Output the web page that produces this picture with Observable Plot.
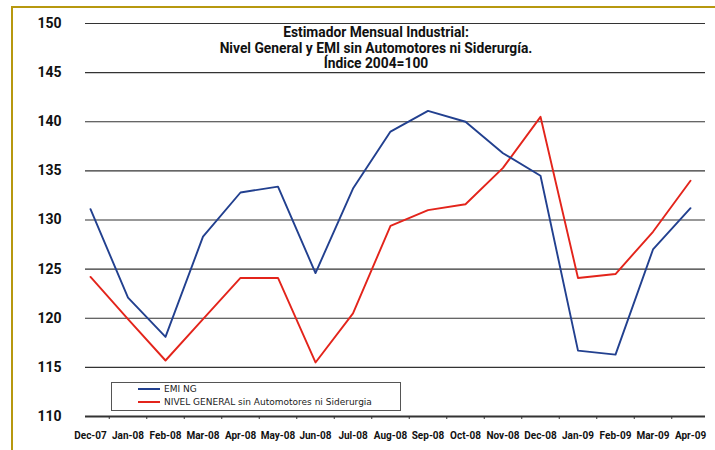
<!DOCTYPE html>
<html><head><meta charset="utf-8">
<script src="https://cdn.jsdelivr.net/npm/d3@7"></script>
<script src="https://cdn.jsdelivr.net/npm/@observablehq/plot@0.6"></script>
<style>
body{margin:0;background:#fff;}
#wrap{position:relative;width:715px;height:450px;overflow:hidden;font-family:Roboto,sans-serif;}
#frame{position:absolute;left:11px;top:6px;width:720px;height:460px;border-left:2.5px solid #b7980f;border-top:2.5px solid #b7980f;}
#title{position:absolute;left:0;width:752px;top:25px;text-align:center;font:bold 13.8px Roboto,sans-serif;line-height:15.5px;color:#111;}
#legend{position:absolute;left:111px;top:382px;width:288px;height:27px;border:1px solid #555;background:#fff;font:9px "DejaVu Sans",Verdana,sans-serif;color:#222;}
.li{position:absolute;left:26px;display:flex;align-items:center;}
.sw{width:22px;height:2px;margin-right:4px;}
</style></head>
<body><div id="wrap"><div id="frame"></div><div id="chart"></div>
<div id="title">Estimador Mensual Industrial:<br>Nivel General y EMI sin Automotores ni Siderurgía.<br>Índice 2004=100</div>
<div id="legend"><div class="li" style="top:1px"><div class="sw" style="background:#22408f"></div>EMI NG</div><div class="li" style="top:14px"><div class="sw" style="background:#e3241b"></div>NIVEL GENERAL sin Automotores ni Siderurgia</div></div>
</div>
<script>
const months = ["Dec-07","Jan-08","Feb-08","Mar-08","Apr-08","May-08","Jun-08","Jul-08","Aug-08","Sep-08","Oct-08","Nov-08","Dec-08","Jan-09","Feb-09","Mar-09","Apr-09"];
const emiNG = [131.1,122.1,118.1,128.3,132.8,133.4,124.6,133.2,139.0,141.1,140.0,136.8,134.5,116.7,116.3,127.0,131.2];
const nivelGeneral = [124.2,119.9,115.7,119.9,124.1,124.1,115.5,120.5,129.4,131.0,131.6,135.3,140.5,124.1,124.5,128.8,134.0];
const yTicks = [110,115,120,125,130,135,140,145,150];

const blue = months.map((m,i)=>({i, v: emiNG[i]}));
const red = months.map((m,i)=>({i, v: nivelGeneral[i]}));
const idx = months.map((m,i)=>i);
const mids = idx.slice(0,-1).map(i=>i+0.5);

const chart = Plot.plot({
  width: 715, height: 450,
  marginLeft: 85, marginRight: 10, marginTop: 23, marginBottom: 34,
  style: {fontFamily: "Roboto, sans-serif", background: "transparent"},
  x: {type: "linear", domain: [0, 16], range: [90, 690]},
  y: {domain: [110, 150], range: [416, 23]},
  marks: [
    Plot.ruleY(yTicks.filter(t=>t>110), {stroke: "#333", strokeWidth: 1.2}),
    Plot.ruleY([110], {stroke: "#333", strokeWidth: 2.2}),
    Plot.axisY({ticks: yTicks, tickSize: 0, tickPadding: 24, label: null, fontSize: 14, fontWeight: "bold", fill: "#111"}),
    Plot.axisX({ticks: mids, tickSize: 3, tickFormat: () => "", label: null, stroke: "#333"}),
    Plot.axisX({ticks: idx, tickSize: 0, tickPadding: 15, tickFormat: i => months[i], label: null, fontSize: 10, fontWeight: "bold", fill: "#111"}),
    Plot.line(red, {x: "i", y: "v", stroke: "#e3241b", strokeWidth: 1.9}),
    Plot.line(blue, {x: "i", y: "v", stroke: "#22408f", strokeWidth: 1.9})
  ]
});
chart.style.position = "absolute";
chart.style.left = "0px";
chart.style.top = "0px";
document.getElementById("chart").appendChild(chart);
</script>
</body></html>
